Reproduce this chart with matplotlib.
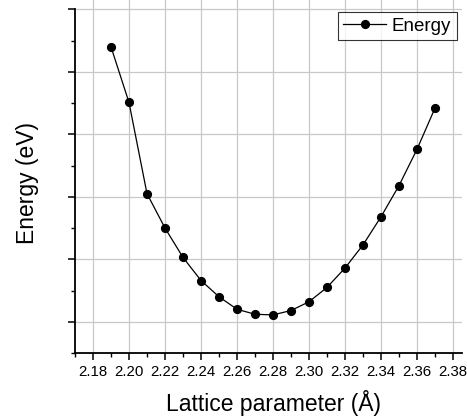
import matplotlib
matplotlib.use('Agg')
import matplotlib.pyplot as plt
from matplotlib.ticker import MultipleLocator, NullFormatter

plt.rcParams['font.family'] = ['Liberation Sans', 'DejaVu Sans']

# lattice parameter (Angstrom) and energy (arbitrary units, no y labels shown)
lattice = [2.19, 2.20, 2.21, 2.22, 2.23, 2.24, 2.25, 2.26, 2.27, 2.28,
           2.29, 2.30, 2.31, 2.32, 2.33, 2.34, 2.35, 2.36, 2.37]
energy = [4.40, 3.51, 2.05, 1.50, 1.03, 0.66, 0.40, 0.20, 0.12, 0.11,
          0.18, 0.32, 0.55, 0.86, 1.23, 1.68, 2.18, 2.76, 3.42]
xtick_vals = [2.18, 2.20, 2.22, 2.24, 2.26, 2.28, 2.30, 2.32, 2.34, 2.36, 2.38]

fig = plt.figure(figsize=(4.67, 4.18), dpi=100)
ax = fig.add_axes([75 / 467, 65 / 418, 387 / 467, 353 / 418])

ax.plot(lattice, energy, color='black', lw=0.9, marker='o', ms=5.6,
        label='Energy')

ax.set_xlim(2.17, 2.385)
ax.set_ylim(-0.5, 5.15)
ax.set_xticks(xtick_vals)
ax.set_xticklabels(['%.2f' % v for v in xtick_vals])
ax.xaxis.set_minor_locator(MultipleLocator(0.01))
ax.yaxis.set_major_locator(MultipleLocator(1))
ax.yaxis.set_minor_locator(MultipleLocator(0.5))
ax.yaxis.set_major_formatter(NullFormatter())

for s in ('top', 'right'):
    ax.spines[s].set_visible(False)
ax.spines['left'].set_bounds(-0.5, 5)
ax.spines['left'].set_linewidth(1.3)
ax.spines['bottom'].set_linewidth(1.3)

ax.tick_params(which='major', direction='out', length=5, width=1.1,
               labelsize=10.8, pad=4)
ax.tick_params(which='minor', direction='out', length=3, width=1.0)

ax.grid(True, which='major', color='#c8c8c8', lw=0.9)
ax.set_axisbelow(True)
for g in ax.get_ygridlines():
    if g.get_ydata()[0] > 4.5:
        g.set_visible(False)

ax.set_xlabel('Lattice parameter (Å)', fontsize=16.5)
ax.set_ylabel('Energy (eV)', fontsize=16.5)
ax.xaxis.set_label_coords(0.512, -0.105)
ax.yaxis.set_label_coords(-0.093, 0.483)

leg = ax.legend(loc='upper right', bbox_to_anchor=(0.987, 0.966), fontsize=13.5,
                frameon=True, fancybox=False, handlelength=2.3,
                borderpad=0.3, handletextpad=0.3, borderaxespad=0.0)
leg.get_frame().set_edgecolor('black')
leg.get_frame().set_linewidth(0.8)

fig.savefig('out.png', dpi=100)
